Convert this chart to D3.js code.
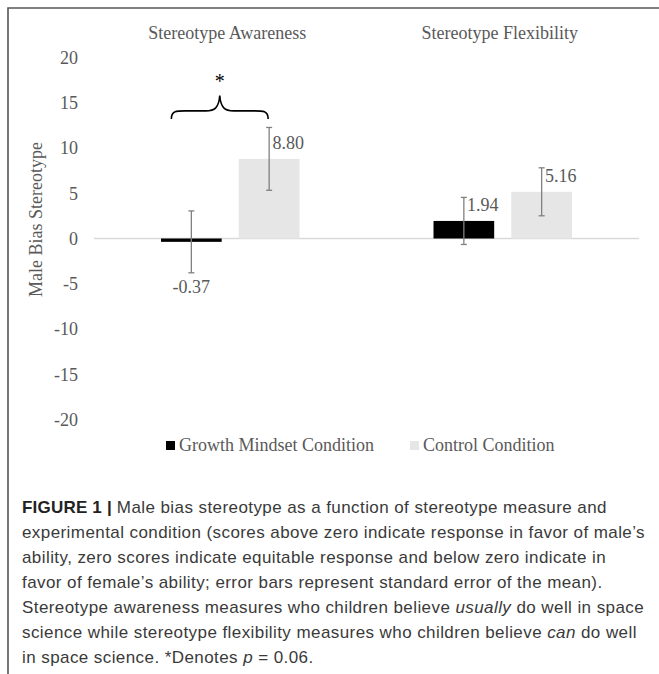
<!DOCTYPE html>
<html><head><meta charset="utf-8">
<script src="https://cdn.jsdelivr.net/npm/d3@7/dist/d3.min.js"></script>
<style>
html,body{margin:0;padding:0;background:#fff;}
svg{display:block;}
</style></head>
<body>
<script>
// ---- data ----
const measures = ["Stereotype Awareness", "Stereotype Flexibility"];
const conditions = ["Growth Mindset Condition", "Control Condition"];
const growthValues = [-0.37, 1.94];
const controlValues = [8.80, 5.16];
const growthSE = [3.42, 2.60];
const controlSE = [3.47, 2.65];
const yTicks = [20, 15, 10, 5, 0, -5, -10, -15, -20];
const captionLines = [
  [["b","FIGURE 1 | "],["n","Male bias stereotype as a function of stereotype measure and"]],
  [["n","experimental condition (scores above zero indicate response in favor of male’s"]],
  [["n","ability, zero scores indicate equitable response and below zero indicate in"]],
  [["n","favor of female’s ability; error bars represent standard error of the mean)."]],
  [["n","Stereotype awareness measures who children believe "],["i","usually"],["n"," do well in space"]],
  [["n","science while stereotype flexibility measures who children believe "],["i","can"],["n"," do well"]],
  [["n","in space science. *Denotes "],["i","p"],["n"," = 0.06."]]
];

const W = 659, H = 674;
const svg = d3.select("body").append("svg").attr("width", W).attr("height", H);

// frame
svg.append("path").attr("d", `M8,${H} L8,8 L${W},8`).attr("fill","none")
  .attr("stroke","#555").attr("stroke-width",1.6);

const serif = "'Liberation Serif','Times New Roman',serif";
const gray = "#595959";
const colors = ["#000000", "#e6e6e6"];

const x0 = d3.scaleBand().domain(measures).range([94, 639]).paddingInner(0).paddingOuter(0);
const x1 = d3.scaleBand().domain(conditions).range([67, x0.bandwidth()-67]).paddingInner(0.22);
const y = d3.scaleLinear().domain([-20, 20]).range([419.5, 57.5]);

// y axis
const yAxis = d3.axisLeft(y).tickValues(yTicks).tickSize(0).tickPadding(16).tickFormat(d => String(d));
const gy = svg.append("g").attr("transform","translate(94,0)").call(yAxis);
gy.select(".domain").remove();
gy.selectAll("text").attr("font-family", serif).attr("font-size", 18).attr("fill", gray).attr("dy","0.33em");

// y title
svg.append("text").attr("transform", `translate(42,${(y(20)+y(-20))/2 - 19}) rotate(-90)`)
  .attr("text-anchor","middle").attr("font-family", serif).attr("font-size",18).attr("fill",gray)
  .text("Male Bias Stereotype");

// category titles at top
svg.append("g").selectAll("text").data(measures).join("text")
  .attr("x", d => x0(d) + x0.bandwidth()/2 - 3)
  .attr("y", 39)
  .attr("text-anchor","middle").attr("font-family", serif).attr("font-size",18).attr("fill",gray)
  .text(d => d);

// zero line
svg.append("line").attr("x1", 94).attr("x2", 639).attr("y1", y(0)).attr("y2", y(0))
  .attr("stroke","#d9d9d9").attr("stroke-width",1.5);

const rows = [];
measures.forEach((m, i) => {
  rows.push({m, c: conditions[0], v: growthValues[i], se: growthSE[i], k: 0});
  rows.push({m, c: conditions[1], v: controlValues[i], se: controlSE[i], k: 1});
});
const cx = d => x0(d.m) + x1(d.c) + x1.bandwidth()/2;

// bars
svg.append("g").selectAll("rect").data(rows).join("rect")
  .attr("x", d => x0(d.m) + x1(d.c))
  .attr("width", x1.bandwidth())
  .attr("y", d => y(Math.max(0, d.v)))
  .attr("height", d => Math.max(Math.abs(y(d.v) - y(0)), 3))
  .attr("fill", d => colors[d.k]);

// error bars
const eb = svg.append("g").attr("stroke","#808080").attr("stroke-width",1.3);
rows.forEach(d => {
  const x = cx(d), t = y(d.v + d.se), b = y(d.v - d.se);
  eb.append("line").attr("x1",x).attr("x2",x).attr("y1",t).attr("y2",b);
  eb.append("line").attr("x1",x-3).attr("x2",x+3).attr("y1",t).attr("y2",t);
  eb.append("line").attr("x1",x-3).attr("x2",x+3).attr("y1",b).attr("y2",b);
});

// value labels
svg.append("g").selectAll("text").data(rows).join("text")
  .attr("x", d => d.v >= 0 ? cx(d) + 19 : cx(d))
  .attr("y", d => d.v >= 0 ? y(d.v) - 10 : y(d.v) + 51)
  .attr("text-anchor","middle").attr("font-family", serif).attr("font-size",18).attr("fill",gray)
  .text(d => d.v.toFixed(2));

// significance brace
{
  const a = rows[0], b = rows[1];
  const L = cx(a) - 20, R = cx(b) - 1, M = (L + R) / 2;
  const yb = y(13.2), ym = y(14.1), yp = y(15.8);
  const p = `M${L},${yb} C${L},${ym-1} ${L+6},${ym} ${L+18},${ym} L${M-14},${ym} C${M-5},${ym} ${M-1},${ym-3} ${M},${yp}`
          + ` C${M+1},${ym-3} ${M+5},${ym} ${M+14},${ym} L${R-18},${ym} C${R-6},${ym} ${R},${ym-1} ${R},${yb}`;
  svg.append("path").attr("d", p).attr("fill","none").attr("stroke","#000").attr("stroke-width",1.6);
  svg.append("text").attr("x", M).attr("y", y(17.7) + 10).attr("text-anchor","middle")
    .attr("font-family", serif).attr("font-size",20).attr("fill","#000").text("*");
}

// legend
const legX = [166, 410];
const lg = svg.append("g");
conditions.forEach((c, i) => {
  lg.append("rect").attr("x", legX[i]).attr("y", 441).attr("width", 9).attr("height", 9).attr("fill", colors[i]);
  lg.append("text").attr("x", legX[i] + 13).attr("y", 451).attr("font-family", serif).attr("font-size",18)
    .attr("fill", gray).text(c);
});

// caption
const cap = svg.append("text").attr("font-family","'Liberation Sans',Arial,Helvetica,sans-serif")
  .attr("font-size",17).attr("letter-spacing",0.42).attr("fill","#3a3a3a");
captionLines.forEach((line, i) => {
  line.forEach((seg, j) => {
    const t = cap.append("tspan").text(seg[1]);
    if (j === 0) t.attr("x", 22).attr("y", 513 + i*25);
    if (seg[0] === "b") t.attr("font-weight","bold").attr("fill","#222").attr("letter-spacing",0.2);
    if (seg[0] === "i") t.attr("font-style","italic");
  });
});
</script>
</body></html>
